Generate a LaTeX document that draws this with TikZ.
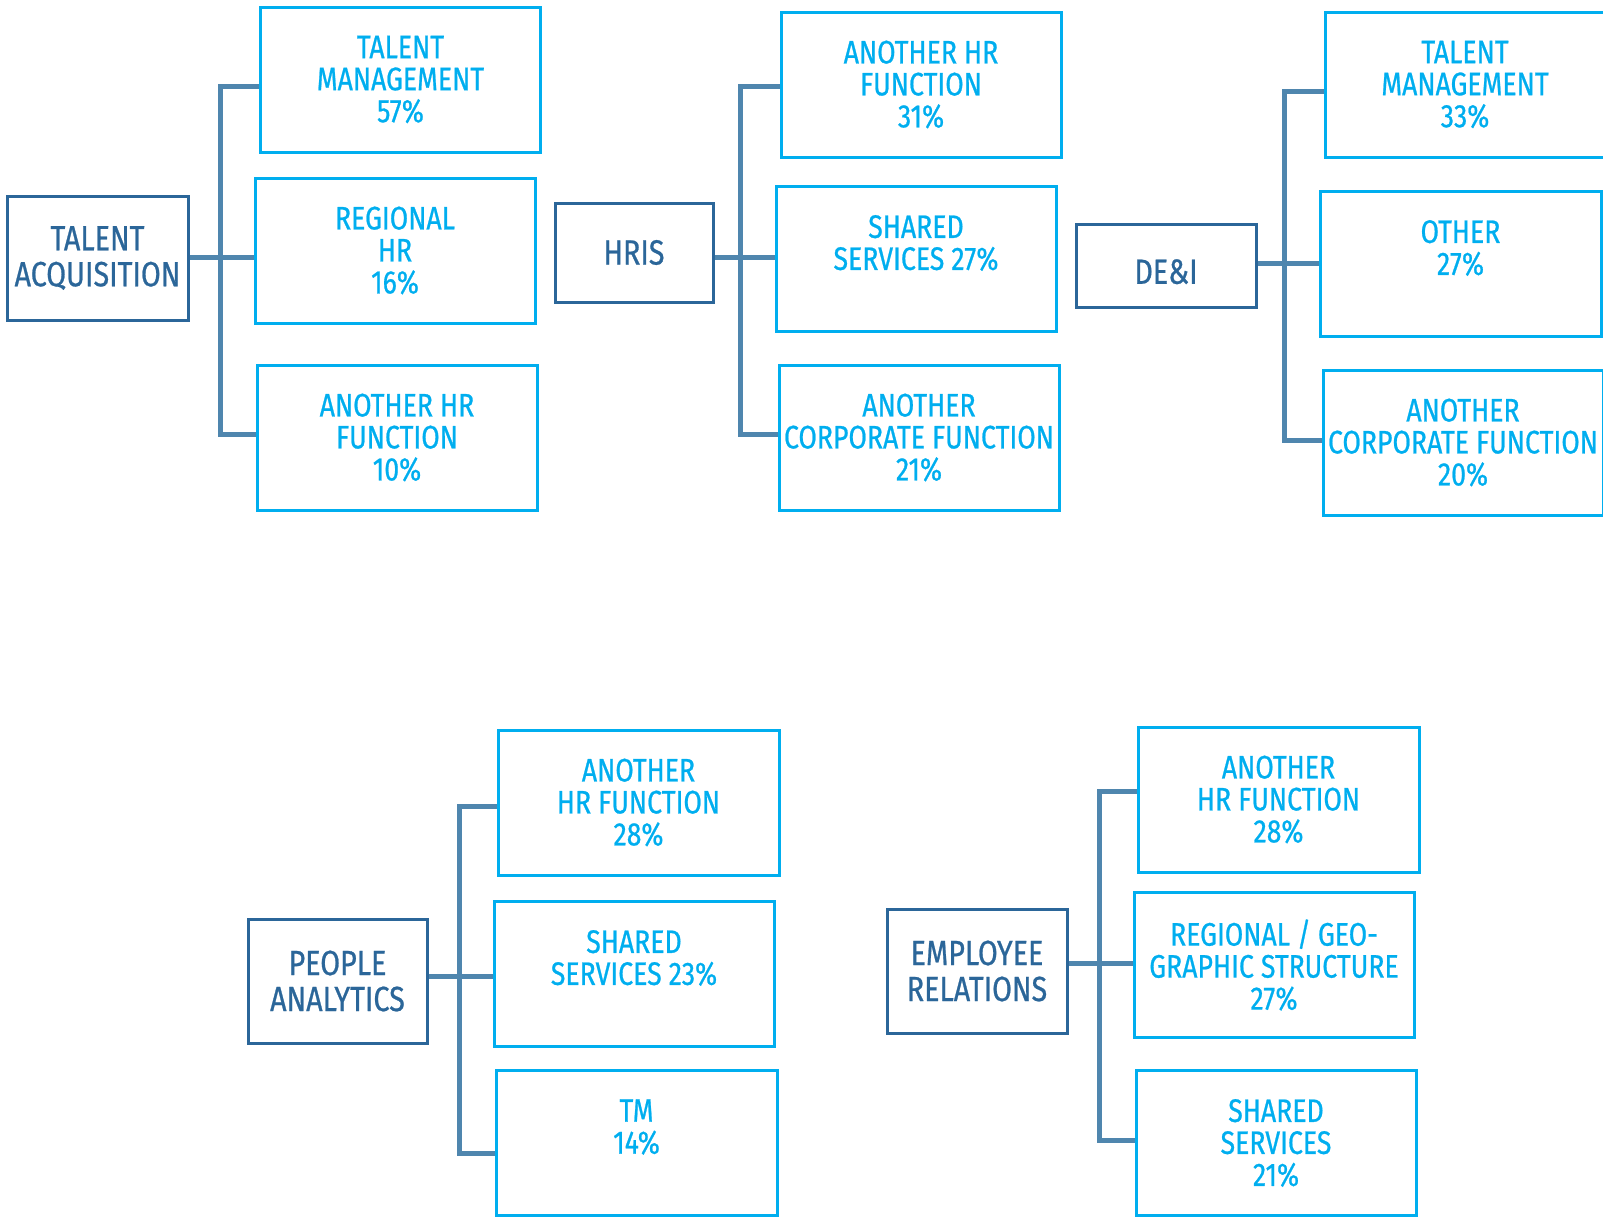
\documentclass[tikz,border=0pt]{standalone}
\usepackage{fontspec}
\setmainfont[FakeStretch=0.82,FakeBold=0.7]{Fira Sans}
\definecolor{navy}{HTML}{2B6699}
\definecolor{connc}{HTML}{4F86AE}
\definecolor{cyanc}{HTML}{00AEEF}
\tikzset{
  dbox/.style={draw=navy, line width=3pt, text=navy, align=center,
    font=\fontsize{35}{36}\selectfont, inner sep=0pt},
  lbox/.style={draw=cyanc, line width=3pt, text=cyanc, align=center,
    minimum width=280pt, minimum height=145pt, inner sep=0pt,
    font=\fontsize{32.5}{32}\selectfont},
  conn/.style={draw=connc, line width=5pt, line cap=butt, line join=miter}
}
\begin{document}
\begin{tikzpicture}[x=1pt,y=-1pt]
\useasboundingbox (0,0) rectangle (1603,1216);
% ---------- group A: Talent Acquisition
\node[dbox, minimum width=181pt, minimum height=124pt] (ta) at (97.5,258) {TALENT\\ACQUISITION};
\node[lbox] (tm57) at (400.5,79.5) {TALENT\\MANAGEMENT\\57\%};
\node[lbox] (reg16) at (395,250.5) {REGIONAL\\HR\\16\%};
\node[lbox] (ahr10) at (397,437.5) {ANOTHER HR\\FUNCTION\\10\%};
\coordinate (a1) at (220,86);
\coordinate (a2) at (220,257);
\coordinate (a3) at (220,434);
\draw[conn] (a1 -| tm57.west) -- (a1) -- (a3) -- (a3 -| ahr10.west);
\draw[conn] (a2 -| ta.east) -- (a2 -| reg16.west);
% ---------- group B: HRIS
\node[dbox, minimum width=158pt, minimum height=99pt] (hris) at (634,252.5) {HRIS};
\node[lbox] (ahr31) at (921,84.5) {ANOTHER HR\\FUNCTION\\31\%};
\node[lbox] (ss27) at (916,258.5) {SHARED\\SERVICES 27\%\\\mbox{}};
\node[lbox] (acf21) at (919,437.5) {ANOTHER\\CORPORATE FUNCTION\\21\%};
\coordinate (b1) at (740,86);
\coordinate (b2) at (740,257);
\coordinate (b3) at (740,434);
\draw[conn] (b1 -| ahr31.west) -- (b1) -- (b3) -- (b3 -| acf21.west);
\draw[conn] (b2 -| hris.east) -- (b2 -| ss27.west);
% ---------- group C: DE&I
\node[dbox, minimum width=180pt, minimum height=83pt] (dei) at (1166,265.5) {\raisebox{-6pt}[\height][0pt]{DE\&I}};
\node[lbox] (tm33) at (1465,84.5) {TALENT\\MANAGEMENT\\33\%};
\node[lbox, minimum width=281pt] (oth27) at (1460.5,263.5) {OTHER\\27\%\\\mbox{}};
\node[lbox] (acf20) at (1463,442.5) {ANOTHER\\CORPORATE FUNCTION\\20\%};
\coordinate (c1) at (1284,91);
\coordinate (c2) at (1284,263);
\coordinate (c3) at (1284,440);
\draw[conn] (c1 -| tm33.west) -- (c1) -- (c3) -- (c3 -| acf20.west);
\draw[conn] (c2 -| dei.east) -- (c2 -| oth27.west);
% ---------- group D: People Analytics
\node[dbox, minimum width=179pt, minimum height=124pt] (pa) at (337.5,981) {PEOPLE\\ANALYTICS};
\node[lbox, minimum width=281pt] (ahr28a) at (638.5,802.5) {ANOTHER\\HR FUNCTION\\28\%};
\node[lbox] (ss23) at (634,973.5) {SHARED\\SERVICES 23\%\\\mbox{}};
\node[lbox, minimum width=281pt] (tm14) at (636.5,1142.5) {TM\\14\%\\\mbox{}};
\coordinate (d1) at (459,806);
\coordinate (d2) at (459,976);
\coordinate (d3) at (459,1153);
\draw[conn] (d1 -| ahr28a.west) -- (d1) -- (d3) -- (d3 -| tm14.west);
\draw[conn] (d2 -| pa.east) -- (d2 -| ss23.west);
% ---------- group E: Employee Relations
\node[dbox, minimum width=180pt, minimum height=124pt] (er) at (977,971) {EMPLOYEE\\RELATIONS};
\node[lbox, minimum width=281pt] (ahr28b) at (1278.5,799.5) {ANOTHER\\HR FUNCTION\\28\%};
\node[lbox] (rgs27) at (1274,965) {REGIONAL / GEO-\\GRAPHIC STRUCTURE\\27\%};
\node[lbox] (ss21) at (1276,1143) {SHARED\\SERVICES\\21\%};
\coordinate (e1) at (1099,791);
\coordinate (e2) at (1099,963);
\coordinate (e3) at (1099,1140);
\draw[conn] (e1 -| ahr28b.west) -- (e1) -- (e3) -- (e3 -| ss21.west);
\draw[conn] (e2 -| er.east) -- (e2 -| rgs27.west);
\end{tikzpicture}
\end{document}
